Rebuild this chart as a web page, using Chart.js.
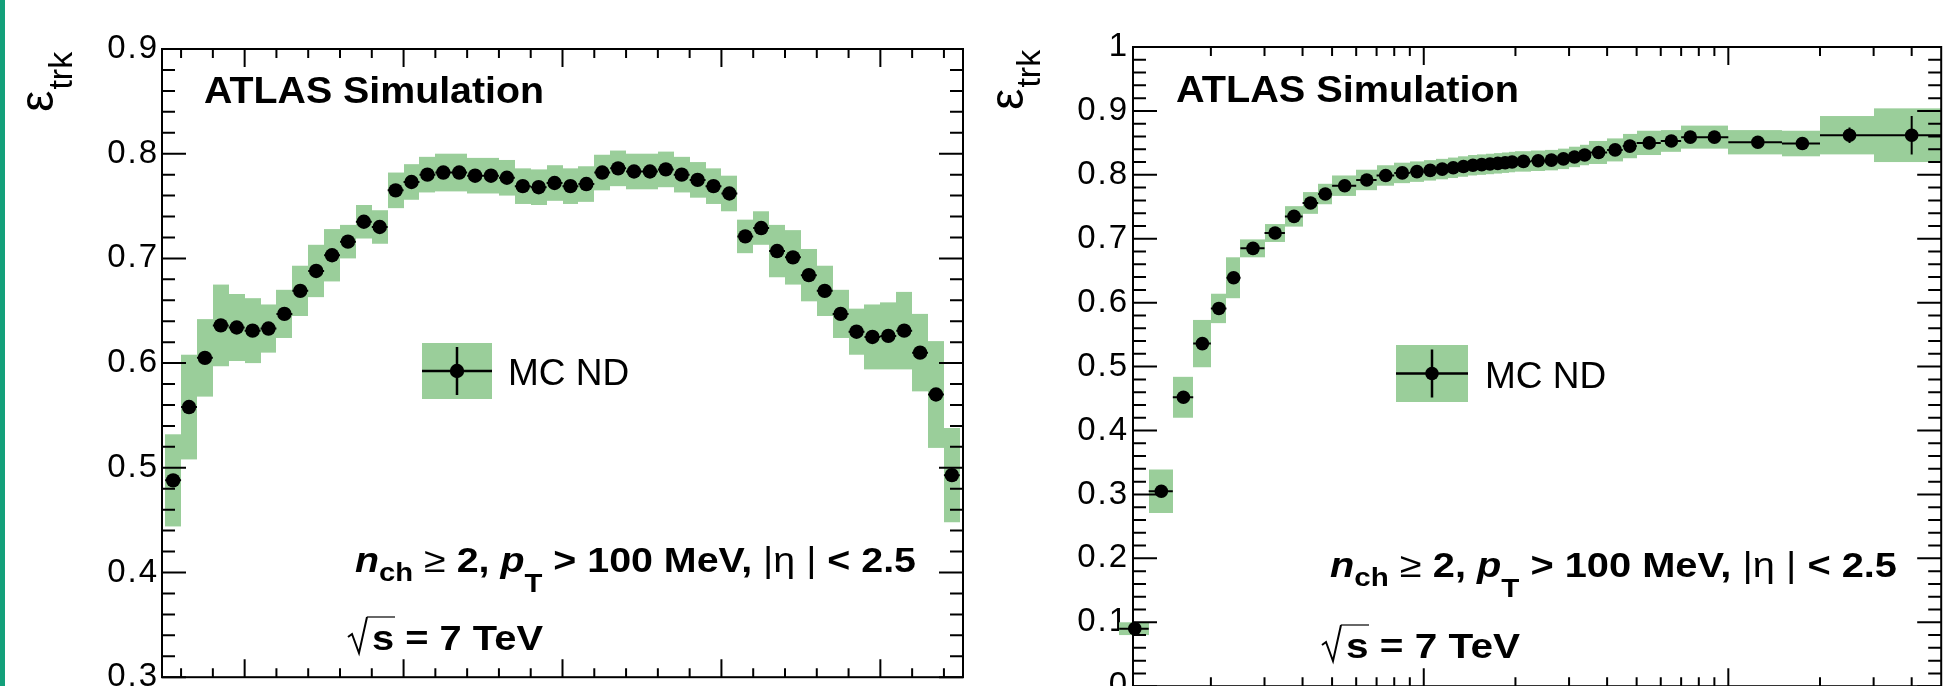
<!DOCTYPE html>
<html>
<head>
<meta charset="utf-8">
<title>Track reconstruction efficiency</title>
<script src="https://cdn.jsdelivr.net/npm/chart.js@4.4.1/dist/chart.umd.min.js"></script>
<style>
    html, body { margin: 0; padding: 0; background: #fff; width: 1948px; height: 686px; overflow: hidden; }
    #strip { position: absolute; left: 0; top: 0; width: 5px; height: 686px; background: #13a07a; }
    #etaChart { position: absolute; left: 0; top: 0; }
    #ptChart { position: absolute; left: 975px; top: 0; }
</style>
</head>
<body>
<canvas id="etaChart" width="975" height="700"></canvas>
<canvas id="ptChart" width="973" height="710"></canvas>
<div id="strip"></div>
<script>
// efficiency vs eta, 50 bins of 0.1
const etaCenters = [-2.45, -2.35, -2.25, -2.15, -2.05, -1.95, -1.85, -1.75, -1.65, -1.55,
    -1.45, -1.35, -1.25, -1.15, -1.05, -0.95, -0.85, -0.75, -0.65, -0.55,
    -0.45, -0.35, -0.25, -0.15, -0.05, 0.05, 0.15, 0.25, 0.35, 0.45,
    0.55, 0.65, 0.75, 0.85, 0.95, 1.05, 1.15, 1.25, 1.35, 1.45,
    1.55, 1.65, 1.75, 1.85, 1.95, 2.05, 2.15, 2.25, 2.35, 2.45];
const etaEff = [0.488, 0.558, 0.605, 0.636, 0.634, 0.631, 0.633, 0.647, 0.669, 0.688,
    0.703, 0.716, 0.735, 0.730, 0.765, 0.773, 0.780, 0.782, 0.782, 0.779,
    0.779, 0.777, 0.769, 0.768, 0.772, 0.769, 0.771, 0.782, 0.786, 0.783,
    0.783, 0.785, 0.780, 0.775, 0.769, 0.762, 0.721, 0.729, 0.707, 0.701,
    0.684, 0.669, 0.647, 0.630, 0.625, 0.626, 0.631, 0.610, 0.570, 0.493];
const etaSyst = [0.044, 0.050, 0.037, 0.039, 0.032, 0.031, 0.023, 0.023, 0.024, 0.025,
    0.025, 0.016, 0.016, 0.016, 0.017, 0.017, 0.017, 0.018, 0.018, 0.017,
    0.017, 0.017, 0.017, 0.017, 0.017, 0.017, 0.017, 0.017, 0.017, 0.017,
    0.017, 0.017, 0.017, 0.017, 0.017, 0.017, 0.016, 0.016, 0.025, 0.026,
    0.025, 0.024, 0.023, 0.022, 0.031, 0.032, 0.037, 0.037, 0.051, 0.045];
const etaHalfBin = 0.05;

// efficiency vs pT [GeV], variable bins
const ptEdges = [0.1, 0.125, 0.15, 0.175, 0.2, 0.225, 0.25, 0.3, 0.35, 0.4, 0.45, 0.5,
    0.6, 0.7, 0.8, 0.9, 1.0, 1.1, 1.2, 1.3, 1.4, 1.5, 1.6, 1.7, 1.8, 1.9, 2.0,
    2.25, 2.5, 2.75, 3.0, 3.25, 3.5, 4.0, 4.5, 5, 6, 7, 8, 10, 15, 20, 30, 50];
const ptCenters = [0.1125, 0.1375, 0.1625, 0.1875, 0.2125, 0.2375, 0.275, 0.325, 0.375, 0.425, 0.475,
    0.55, 0.65, 0.75, 0.85, 0.95, 1.05, 1.15, 1.25, 1.35, 1.45, 1.55, 1.65, 1.75, 1.85, 1.95,
    2.125, 2.375, 2.625, 2.875, 3.125, 3.375, 3.75, 4.25, 4.75, 5.5, 6.5, 7.5, 9, 12.5, 17.5, 25, 40];
const ptEff = [0.090, 0.305, 0.452, 0.536, 0.591, 0.639, 0.685, 0.709, 0.735, 0.756, 0.770,
    0.783, 0.792, 0.799, 0.803, 0.805, 0.807, 0.809, 0.811, 0.813, 0.815, 0.816, 0.817, 0.818, 0.819, 0.820,
    0.821, 0.822, 0.823, 0.825, 0.828, 0.831, 0.835, 0.839, 0.845, 0.850, 0.853, 0.859, 0.859, 0.851, 0.849, 0.862, 0.862];
const ptSyst = [0.010, 0.034, 0.032, 0.037, 0.023, 0.032, 0.014, 0.014, 0.016, 0.017, 0.016,
    0.016, 0.016, 0.016, 0.016, 0.016, 0.016, 0.016, 0.016, 0.016, 0.016, 0.016, 0.016, 0.016, 0.016, 0.016,
    0.016, 0.016, 0.016, 0.016, 0.016, 0.016, 0.018, 0.018, 0.019, 0.019, 0.017, 0.018, 0.018, 0.019, 0.020, 0.030, 0.042];
const ptStat = [0, 0, 0, 0, 0, 0, 0, 0, 0, 0, 0,
    0, 0, 0, 0, 0, 0, 0, 0, 0, 0, 0, 0, 0, 0, 0,
    0, 0, 0, 0, 0, 0, 0, 0, 0, 0, 0, 0, 0.004, 0.006, 0.008, 0.012, 0.030];

const legendLabel = 'MC ND';
const atlasLabel = 'ATLAS Simulation';

const FONT = '"Liberation Sans", Arial, Helvetica, sans-serif';
const BOX_GREEN = 'rgb(154, 206, 154)';

function drawRich(ctx, x, y, parts, width) {
    ctx.save();
    ctx.textAlign = 'left';
    ctx.textBaseline = 'alphabetic';
    let total = 0;
    parts.forEach(function (p) {
        ctx.font = p.font;
        total += ctx.measureText(p.text).width;
    });
    ctx.translate(x, y);
    ctx.scale(width / total, 1);
    let cx = 0;
    parts.forEach(function (p) {
        ctx.font = p.font;
        ctx.fillText(p.text, cx, p.dy || 0);
        cx += ctx.measureText(p.text).width;
    });
    ctx.restore();
}

class EfficiencyPanel {
    constructor(canvasId, spec) {
        this.spec = spec;
        let self = this;
        let points = spec.centers.map(function (x, i) {
            return {x: x, y: spec.values[i]};
        });

        this.chart = new Chart(document.getElementById(canvasId).getContext('2d'), {
            type: 'scatter',
            data: {
                datasets: [{
                    label: legendLabel,
                    data: points,
                    showLine: false,
                    clip: false,
                    pointRadius: spec.radius,
                    pointBorderWidth: 0,
                    pointBackgroundColor: '#000',
                    pointBorderColor: '#000'
                }]
            },
            options: {
                responsive: false,
                animation: false,
                devicePixelRatio: 1,
                events: [],
                layout: {padding: spec.padding},
                plugins: {legend: {display: false}, tooltip: {enabled: false}},
                scales: {
                    x: {type: spec.xType, min: spec.xMin, max: spec.xMax, display: false},
                    y: {
                        min: spec.yMin,
                        max: spec.yMax,
                        grid: {display: false, drawTicks: false},
                        border: {display: false},
                        ticks: {
                            stepSize: 0.1,
                            autoSkip: false,
                            padding: spec.labelPad,
                            color: '#000',
                            font: {family: FONT, size: 33},
                            callback: function (v) {
                                return String(Math.round(v * 10) / 10);
                            }
                        },
                        afterFit: function (scale) {
                            scale.width = spec.axisWidth;
                        }
                    }
                }
            },
            plugins: [{
                id: 'rootFrame',
                beforeDraw: function (chart) {
                    chart.ctx.letterSpacing = '2px';
                },
                beforeDatasetsDraw: function (chart) {
                    self.drawErrors(chart);
                },
                afterDatasetsDraw: function (chart) {
                    self.drawFrame(chart);
                },
                afterDraw: function (chart) {
                    self.drawLabels(chart);
                }
            }]
        });
    }

    drawErrors(chart) {
        let s = this.spec, ctx = chart.ctx;
        let xs = chart.scales.x, ys = chart.scales.y;
        ctx.save();
        ctx.fillStyle = BOX_GREEN;
        s.values.forEach(function (v, i) {
            let x0 = Math.round(xs.getPixelForValue(s.binLo[i]));
            let x1 = Math.round(xs.getPixelForValue(s.binHi[i]));
            let y0 = ys.getPixelForValue(v + s.syst[i]);
            let y1 = ys.getPixelForValue(v - s.syst[i]);
            ctx.fillRect(x0, y0, x1 - x0, y1 - y0);
        });
        ctx.strokeStyle = '#000';
        ctx.lineWidth = 2;
        ctx.beginPath();
        s.values.forEach(function (v, i) {
            let py = ys.getPixelForValue(v);
            ctx.moveTo(xs.getPixelForValue(s.binLo[i]), py);
            ctx.lineTo(xs.getPixelForValue(s.binHi[i]), py);
            if (s.stat && s.stat[i] > 0) {
                let px = xs.getPixelForValue(s.centers[i]);
                ctx.moveTo(px, ys.getPixelForValue(v + s.stat[i]));
                ctx.lineTo(px, ys.getPixelForValue(v - s.stat[i]));
            }
        });
        ctx.stroke();
        ctx.restore();
    }

    drawFrame(chart) {
        let s = this.spec, ctx = chart.ctx, a = chart.chartArea;
        let xs = chart.scales.x, ys = chart.scales.y;
        ctx.save();
        ctx.strokeStyle = '#000';
        ctx.lineWidth = 2;
        ctx.strokeRect(a.left, a.top, a.right - a.left, a.bottom - a.top);
        ctx.beginPath();
        let n = Math.round((s.yMax - s.yMin) / 0.02);
        for (let k = 0; k <= n; k++) {
            let py = ys.getPixelForValue(s.yMin + k * 0.02);
            let len = k % 5 === 0 ? 24 : 13;
            ctx.moveTo(a.left, py);
            ctx.lineTo(a.left + len, py);
            ctx.moveTo(a.right, py);
            ctx.lineTo(a.right - len, py);
        }
        s.xTicks.forEach(function (t) {
            let px = xs.getPixelForValue(t.v);
            let len = t.major ? 18 : 9;
            ctx.moveTo(px, a.top);
            ctx.lineTo(px, a.top + len);
            ctx.moveTo(px, a.bottom);
            ctx.lineTo(px, a.bottom - len);
        });
        ctx.stroke();
        ctx.restore();
    }

    drawLabels(chart) {
        let t = this.spec.text, ctx = chart.ctx;
        ctx.save();
        ctx.letterSpacing = '0px';
        ctx.fillStyle = '#000';
        ctx.strokeStyle = '#000';

        // y axis title, rotated
        ctx.save();
        ctx.translate(t.title.x, t.title.y);
        ctx.rotate(-Math.PI / 2);
        ctx.font = '48px ' + FONT;
        ctx.fillText('\u03b5', 0, 0);
        let w = ctx.measureText('\u03b5').width;
        ctx.font = '34px ' + FONT;
        ctx.fillText('trk', w + 1, t.title.sub);
        ctx.restore();

        drawRich(ctx, t.atlas.x, t.atlas.y, [{text: atlasLabel, font: 'bold 36px ' + FONT}], t.atlas.w);

        // legend entry
        let L = t.legend;
        let cx = (L.x0 + L.x1) / 2, cy = (L.y0 + L.y1) / 2;
        ctx.fillStyle = BOX_GREEN;
        ctx.fillRect(L.x0, L.y0, L.x1 - L.x0, L.y1 - L.y0);
        ctx.fillStyle = '#000';
        ctx.lineWidth = 2.5;
        ctx.beginPath();
        ctx.moveTo(L.x0, cy);
        ctx.lineTo(L.x1, cy);
        ctx.moveTo(cx, cy - 24);
        ctx.lineTo(cx, cy + 24);
        ctx.stroke();
        ctx.beginPath();
        ctx.arc(cx, cy, this.spec.radius, 0, Math.PI * 2);
        ctx.fill();
        ctx.font = '37px ' + FONT;
        ctx.fillText(legendLabel, L.tx, L.ty);

        let bold = 'bold 35px ' + FONT, sub = 'bold 26px ' + FONT;
        drawRich(ctx, t.cond.x, t.cond.y, [
            {text: 'n', font: 'italic ' + bold},
            {text: 'ch', font: sub, dy: 9},
            {text: ' \u2265 ', font: '35px ' + FONT},
            {text: '2, ', font: bold},
            {text: 'p', font: 'italic ' + bold},
            {text: 'T', font: sub, dy: 20},
            {text: ' > 100 MeV, ', font: bold},
            {text: '|\u03b7 |', font: '35px ' + FONT},
            {text: ' < 2.5', font: bold}
        ], t.cond.w);

        // sqrt(s) = 7 TeV
        let r = t.sqrts;
        ctx.lineWidth = 2;
        ctx.beginPath();
        ctx.moveTo(r.x, r.y - 13);
        ctx.lineTo(r.x + 4, r.y - 16);
        ctx.lineTo(r.x + 11, r.y + 3);
        ctx.lineTo(r.x + 19, r.y - 33);
        ctx.stroke();
        ctx.lineWidth = 1.2;
        ctx.beginPath();
        ctx.moveTo(r.x + 19, r.y - 33);
        ctx.lineTo(r.x + 47, r.y - 33);
        ctx.stroke();
        drawRich(ctx, r.x + 24, r.y, [{text: 's = 7 TeV', font: bold}], r.w);
        ctx.restore();
    }
}

let etaTicks = [];
for (let k = -12; k <= 12; k++) {
    etaTicks.push({v: k * 0.2, major: k % 5 === 0});
}

let ptTicks = [];
[0.1, 1, 10].forEach(function (decade) {
    for (let m = 1; m <= 9; m++) {
        let v = m * decade;
        if (v > 0.111 && v < 50) {
            ptTicks.push({v: v, major: m === 1});
        }
    }
});

let etaPanel = new EfficiencyPanel('etaChart', {
    centers: etaCenters,
    values: etaEff,
    syst: etaSyst,
    binLo: etaCenters.map(function (c) { return c - etaHalfBin; }),
    binHi: etaCenters.map(function (c) { return c + etaHalfBin; }),
    xType: 'linear', xMin: -2.52, xMax: 2.52,
    yMin: 0.3, yMax: 0.9,
    xTicks: etaTicks,
    radius: 7.2,
    axisWidth: 162,
    labelPad: 3,
    padding: {left: 0, top: 49, right: 12, bottom: 17},
    text: {
        title: {x: 53, y: 112, sub: 19},
        atlas: {x: 204, y: 103, w: 340},
        legend: {x0: 422, y0: 343, x1: 492, y1: 399, tx: 508, ty: 385},
        cond: {x: 355, y: 572, w: 561},
        sqrts: {x: 348, y: 650, w: 171}
    }
});

let ptPanel = new EfficiencyPanel('ptChart', {
    centers: ptCenters,
    values: ptEff,
    syst: ptSyst,
    stat: ptStat,
    binLo: ptEdges.slice(0, -1),
    binHi: ptEdges.slice(1),
    xType: 'logarithmic', xMin: 0.111, xMax: 50,
    yMin: 0, yMax: 1,
    xTicks: ptTicks,
    radius: 6.8,
    axisWidth: 158,
    labelPad: 4,
    padding: {left: 0, top: 47, right: 1, bottom: 18},
    text: {
        title: {x: 48, y: 110, sub: 17},
        atlas: {x: 201, y: 102, w: 343},
        legend: {x0: 421, y0: 345, x1: 493, y1: 402, tx: 510, ty: 388},
        cond: {x: 355, y: 577, w: 567},
        sqrts: {x: 347, y: 658, w: 174}
    }
});
</script>
</body>
</html>
